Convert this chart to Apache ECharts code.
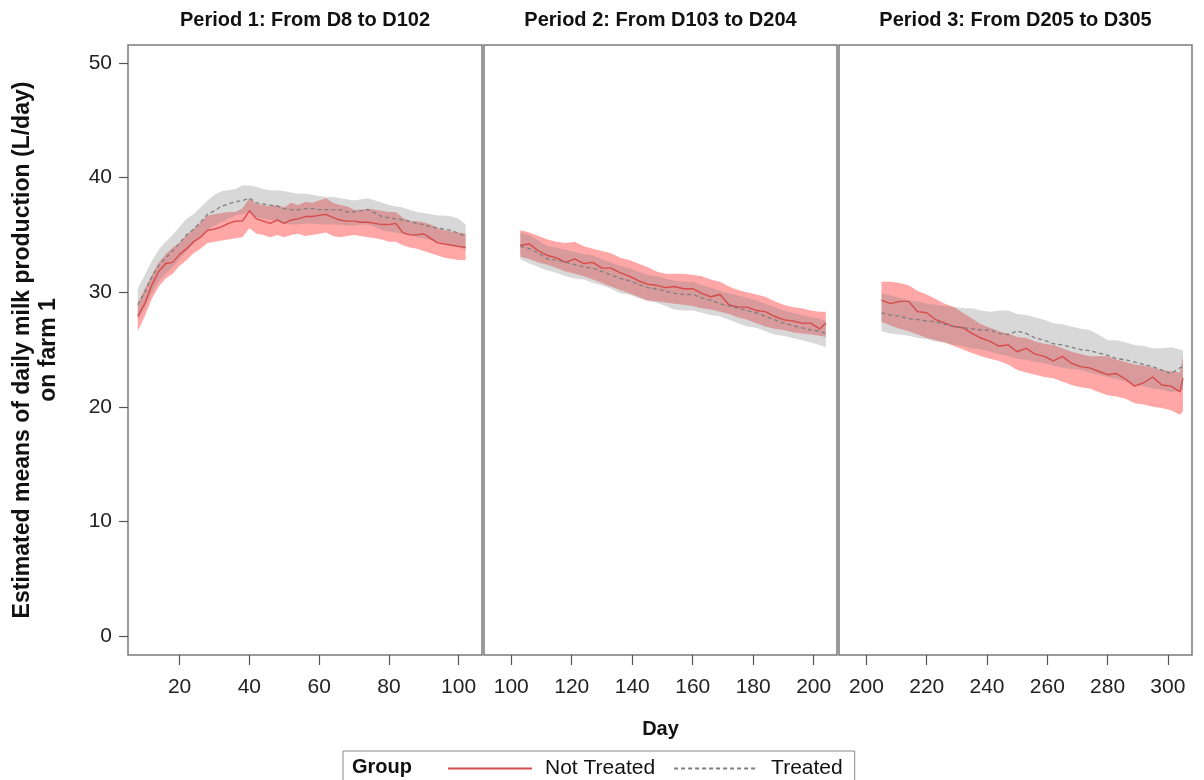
<!DOCTYPE html>
<html><head><meta charset="utf-8">
<script src="https://cdn.jsdelivr.net/npm/echarts@6/dist/echarts.min.js"></script>
<style>html,body{margin:0;padding:0;background:#fff}#c{width:1204px;height:780px}</style>
</head><body><div id="c"></div>
<script>
const panelTitles = ['Period 1: From D8 to D102', 'Period 2: From D103 to D204', 'Period 3: From D205 to D305'];
const groups = ['Not Treated', 'Treated'];
const yTicks = [0, 10, 20, 30, 40, 50];
const xTicks1 = [20, 40, 60, 80, 100];
const xTicks2 = [100, 120, 140, 160, 180, 200];
const xTicks3 = [200, 220, 240, 260, 280, 300];

const days1 = [8,10,12,14,16,18,20,22,24,26,28,30,32,34,36,38,40,42,44,46,48,50,52,54,56,58,60,62,64,66,68,70,72,74,76,78,80,82,84,86,88,90,92,94,96,98,100,102];
const ntMean1 = [27.9,29.0,30.6,31.8,32.5,32.6,33.3,33.8,34.4,34.8,35.4,35.5,35.7,36.0,36.2,36.2,37.1,36.4,36.2,36.0,36.3,36.0,36.3,36.4,36.6,36.6,36.7,36.8,36.5,36.3,36.2,36.2,36.1,36.1,36.0,35.9,35.9,36.0,35.2,35.0,35.0,35.1,34.7,34.3,34.2,34.1,34.0,33.9];
const ntUp1 = [29.0,30.3,31.5,32.6,33.3,33.9,34.3,35.0,35.5,36.1,36.7,36.8,36.9,37.0,37.0,37.3,38.2,37.7,37.6,37.5,37.6,37.4,37.8,37.6,37.9,37.8,38.0,38.2,37.8,37.6,37.5,37.2,37.2,37.3,37.2,37.1,37.0,37.0,36.5,36.2,36.2,36.1,35.9,35.6,35.4,35.3,35.2,35.1];
const ntLow1 = [26.6,27.9,29.4,30.5,31.2,31.6,32.3,32.8,33.4,33.8,34.3,34.4,34.5,34.6,34.7,34.8,35.6,35.1,35.0,34.8,35.0,34.8,35.0,35.1,34.9,35.0,35.1,35.2,34.9,34.8,34.9,35.0,34.9,34.8,34.7,34.6,34.4,34.4,34.1,33.9,33.8,33.6,33.4,33.2,33.0,32.9,32.8,32.8];
const trMean1 = [28.9,30.0,31.3,32.3,33.0,33.6,34.3,35.0,35.5,36.1,36.8,37.1,37.5,37.7,37.9,38.0,38.2,37.8,37.7,37.6,37.5,37.3,37.2,37.2,37.3,37.3,37.2,37.2,37.2,37.2,37.0,37.0,37.1,37.2,36.9,36.6,36.5,36.4,36.3,36.2,36.0,35.9,35.7,35.6,35.5,35.4,35.1,34.9];
const trUp1 = [30.3,31.5,32.7,33.7,34.4,35.0,35.7,36.4,36.8,37.4,38.0,38.5,38.8,38.9,39.0,39.3,39.3,39.2,39.0,38.9,38.9,38.8,38.7,38.6,38.6,38.5,38.4,38.3,38.3,38.2,38.1,38.0,38.1,38.2,38.0,37.8,37.6,37.5,37.4,37.2,37.0,36.9,36.8,36.7,36.7,36.6,36.4,35.9];
const trLow1 = [27.5,28.6,29.9,30.9,31.6,32.2,32.9,33.6,34.2,34.8,35.5,35.8,36.1,36.4,36.7,36.8,37.0,36.5,36.4,36.3,36.2,36.0,35.9,35.9,36.0,36.0,35.9,35.9,35.9,35.9,35.8,35.8,35.9,35.9,35.7,35.4,35.3,35.2,35.1,35.0,34.8,34.7,34.5,34.4,34.3,34.1,33.9,33.7];

const days2 = [103,106,109,112,115,118,121,124,127,130,133,136,139,142,145,148,151,154,157,160,163,166,169,172,175,178,181,184,187,190,193,196,199,202,204];
const ntMean2 = [34.1,34.2,33.6,33.2,33.0,32.6,32.9,32.5,32.6,32.1,32.1,31.7,31.4,31.0,30.7,30.6,30.4,30.5,30.3,30.3,29.9,29.6,29.8,28.9,28.7,28.7,28.4,28.3,27.9,27.6,27.5,27.3,27.3,26.8,27.3];
const ntUp2 = [35.4,35.2,34.9,34.6,34.4,34.3,34.4,34.0,33.8,33.6,33.4,33.0,32.8,32.5,32.2,31.8,31.6,31.6,31.6,31.5,31.4,31.1,30.9,30.5,30.2,30.0,29.8,29.6,29.2,28.9,28.7,28.6,28.4,28.3,28.3];
const ntLow2 = [33.1,32.9,32.6,32.4,32.1,31.8,31.6,31.4,31.1,30.8,30.5,30.2,29.9,29.6,29.3,29.2,29.1,29.0,28.9,28.8,28.6,28.5,28.3,28.1,27.8,27.6,27.3,27.0,26.8,26.7,26.5,26.4,26.3,26.2,26.1];
const trMean2 = [34.0,33.8,33.4,32.9,32.8,32.6,32.4,32.2,32.1,31.8,31.5,31.2,31.0,30.7,30.4,30.3,30.1,29.9,29.8,29.8,29.5,29.3,29.0,28.8,28.6,28.4,28.2,27.9,27.6,27.3,27.1,26.9,26.7,26.6,26.4];
const trUp2 = [35.2,35.0,34.5,34.0,33.9,33.7,33.5,33.3,33.2,32.9,32.6,32.3,32.1,31.8,31.5,31.4,31.2,31.0,30.9,30.9,30.6,30.4,30.1,29.9,29.7,29.5,29.3,29.0,28.7,28.4,28.2,28.0,27.8,27.7,27.5];
const trLow2 = [32.9,32.5,32.2,31.9,31.7,31.4,31.2,31.1,30.8,30.6,30.3,29.9,29.8,29.5,29.2,29.1,28.8,28.5,28.4,28.4,28.2,28.0,27.9,27.6,27.3,27.0,26.9,26.6,26.3,26.2,26.0,25.8,25.6,25.4,25.2];

const days3 = [205,208,211,214,217,220,223,226,229,232,235,238,241,244,247,250,253,256,259,262,265,268,271,274,277,280,283,286,289,292,295,298,301,304,305];
const ntMean3 = [29.3,29.0,29.2,29.2,28.3,28.2,27.6,27.3,27.0,26.9,26.4,26.0,25.7,25.3,25.4,24.8,25.1,24.6,24.4,24.0,24.4,23.8,23.5,23.4,23.1,22.8,22.9,22.4,21.8,22.1,22.6,21.9,21.8,21.3,22.5];
const ntUp3 = [30.9,30.9,30.8,30.6,30.1,29.8,29.4,29.0,28.7,28.2,27.7,27.2,26.9,26.6,26.4,26.1,26.0,25.7,25.5,25.4,25.1,24.8,24.6,24.4,24.4,24.4,24.1,23.9,23.7,23.6,23.4,23.2,23.1,23.0,24.4];
const ntLow3 = [27.4,27.1,26.8,26.6,26.3,26.0,25.8,25.6,25.3,25.0,24.7,24.4,24.2,24.0,23.7,23.2,23.0,22.8,22.6,22.5,22.2,21.9,21.7,21.6,21.3,21.0,20.9,20.7,20.3,20.2,20.0,19.9,19.7,19.3,19.6];
const trMean3 = [28.2,28.0,27.9,27.7,27.6,27.5,27.4,27.2,27.0,26.9,26.8,26.7,26.7,26.4,26.3,26.6,26.4,26.0,25.8,25.5,25.4,25.2,25.0,24.9,24.7,24.5,24.2,24.1,23.9,23.7,23.5,23.2,22.9,23.4,23.5];
const trUp3 = [29.9,29.7,29.5,29.3,29.2,29.0,28.9,28.8,28.7,28.6,28.6,28.4,28.3,28.4,28.4,28.1,28.0,27.8,27.6,27.3,27.2,27.0,26.8,26.7,26.3,25.8,25.8,25.6,25.4,25.3,25.1,25.1,25.2,25.0,24.9];
const trLow3 = [26.6,26.4,26.3,26.2,26.0,25.9,25.7,25.6,25.4,25.3,25.1,25.0,24.8,24.6,24.4,24.2,24.1,23.9,23.8,23.6,23.4,23.3,23.2,23.0,22.8,22.6,22.4,22.2,21.9,21.8,21.6,21.5,21.3,21.4,21.5];

// ---- build ----
const FONT = '"Liberation Sans", Arial, sans-serif';
const RED = '#d64b4b', GRAY = '#7f7f7f';
const PINK = 'rgba(255,0,0,0.35)', GBAND = 'rgba(128,128,128,0.31)';

const panels = [
  {days: days1, nt: [ntLow1, ntMean1, ntUp1], tr: [trLow1, trMean1, trUp1], ticks: xTicks1, xMin: 5.2, xMax: 106.7, left: 128, width: 354},
  {days: days2, nt: [ntLow2, ntMean2, ntUp2], tr: [trLow2, trMean2, trUp2], ticks: xTicks2, xMin: 91.0, xMax: 207.7, left: 484, width: 353},
  {days: days3, nt: [ntLow3, ntMean3, ntUp3], tr: [trLow3, trMean3, trUp3], ticks: xTicks3, xMin: 190.9, xMax: 308.0, left: 839, width: 353}
];
const GRID_TOP = 45, GRID_BOTTOM = 125;
const Y_MIN = -1.66, Y_MAX = 51.57;

const grids = [], xAxes = [], yAxes = [], series = [];
panels.forEach((p, i) => {
  grids.push({left: p.left, top: GRID_TOP, width: p.width, bottom: GRID_BOTTOM, show: true,
    borderColor: '#7a7a7a', borderWidth: 1.5, containLabel: false, outerBoundsMode: 'none'});
  xAxes.push({type: 'value', gridIndex: i, min: p.xMin, max: p.xMax,
    axisLine: {show: false, onZero: false}, splitLine: {show: false},
    axisTick: {show: true, inside: false, length: 10, lineStyle: {color: '#555', width: 1.2}, customValues: p.ticks},
    axisLabel: {fontSize: 21, color: '#222', fontFamily: FONT, margin: 22, customValues: p.ticks},
    name: i === 1 ? 'Day' : '', nameLocation: 'middle', nameGap: 64,
    nameTextStyle: {fontSize: 20, fontWeight: 'bold', color: '#111', fontFamily: FONT}});
  yAxes.push({type: 'value', gridIndex: i, min: Y_MIN, max: Y_MAX,
    axisLine: {show: false, onZero: false}, splitLine: {show: false},
    axisTick: {show: i === 0, inside: false, length: 9, lineStyle: {color: '#555', width: 1.2}, customValues: yTicks},
    axisLabel: {show: i === 0, fontSize: 21, color: '#222', fontFamily: FONT, margin: 16, customValues: yTicks},
    name: i === 0 ? 'Estimated means of daily milk production (L/day)\non farm 1' : '',
    nameLocation: 'middle', nameRotate: 90, nameGap: 66,
    nameTextStyle: {fontSize: 23, fontWeight: 'bold', color: '#111', fontFamily: FONT, lineHeight: 26, align: 'center'}});

  const bandSeries = (arr, color, key) => {
    const [low, , up] = arr;
    series.push({type: 'custom', name: key + i, xAxisIndex: i, yAxisIndex: i, silent: true, z: 1,
      data: p.days.map((d, k) => [d, low[k], up[k]]),
      encode: {x: 0, y: [1, 2]},
      renderItem: (params, api) => {
        if (params.dataIndex !== 0) return null;
        const top = p.days.map((d, k) => api.coord([d, up[k]]));
        const bot = p.days.map((d, k) => api.coord([d, low[k]])).reverse();
        return {type: 'polygon', shape: {points: top.concat(bot)}, style: {fill: color, stroke: null}};
      }});
  };
  bandSeries(p.nt, PINK, 'ntband');
  bandSeries(p.tr, GBAND, 'trband');
  series.push({type: 'line', name: groups[0], xAxisIndex: i, yAxisIndex: i,
    data: p.days.map((d, k) => [d, p.nt[1][k]]), symbol: 'none', color: RED,
    lineStyle: {color: RED, width: 1.4}, z: 3});
  series.push({type: 'line', name: groups[1], xAxisIndex: i, yAxisIndex: i,
    data: p.days.map((d, k) => [d, p.tr[1][k]]), symbol: 'none', color: GRAY,
    lineStyle: {color: GRAY, width: 1.3, type: [4, 3]}, z: 3});
});

const titleGraphics = panels.map((p, i) => ({type: 'text', x: p.left + p.width / 2, y: 10, z: 100,
  style: {text: panelTitles[i], font: 'bold 20px ' + FONT, fill: '#111', textAlign: 'center', textVerticalAlign: 'top'}}));
titleGraphics.push({type: 'text', x: 352, y: 757, z: 100,
  style: {text: 'Group', font: 'bold 20px ' + FONT, fill: '#111', textAlign: 'left', textVerticalAlign: 'top'}});

const chart = echarts.init(document.getElementById('c'), null, {renderer: 'canvas'});
chart.setOption({
  animation: false,
  backgroundColor: '#fff',
  textStyle: {fontFamily: FONT},
  grid: grids, xAxis: xAxes, yAxis: yAxes, series: series,
  legend: {data: groups, left: 343, top: 751, orient: 'horizontal',
    padding: [7, 12, 10, 104], itemWidth: 84, itemHeight: 14, itemGap: 18,
    borderColor: '#888', borderWidth: 1,
    itemStyle: {opacity: 0},
    textStyle: {fontSize: 21, color: '#111', fontFamily: FONT, padding: [0, 0, 0, 8]}},
  graphic: titleGraphics
});
</script></body></html>
